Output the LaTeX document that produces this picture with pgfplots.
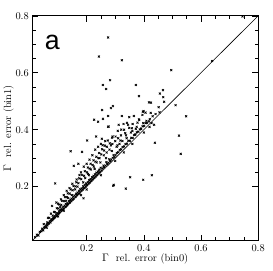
\documentclass[border=0pt]{standalone}
\usepackage{fontspec}
\usepackage{pgfplots}
\pgfplotsset{compat=1.18}
\newfontfamily\sansa{Liberation Sans}
\begin{document}
\begin{tikzpicture}
\begin{axis}[
  scale only axis,
  width=228pt, height=227pt,
  xmin=0.01, xmax=0.8, ymin=0.01, ymax=0.8,
  xtick={0.2,0.4,0.6,0.8}, ytick={0.2,0.4,0.6,0.8},
  minor tick num=3,
  tick align=inside,
  xtick pos=both, ytick pos=both,
  xticklabel pos=bottom, yticklabel pos=left,
  major tick length=6pt, minor tick length=3.5pt,
  axis line style={line width=0.8pt},
  every tick/.style={black, line width=0.6pt},
  tick label style={font=\fontsize{10.5}{12}\selectfont},
  xticklabels={0.2,0.4,0.6,0.8}, yticklabels={0.2,0.4,0.6,0.8},
  label style={font=\fontsize{10.5}{12}\selectfont},
  xlabel={$\Gamma$\ \ rel. error (bin0)},
  ylabel={$\Gamma$\ \ rel. error (bin1)},
  xlabel style={yshift=5pt},
  ylabel style={yshift=-5pt},
  clip=false,
]
\addplot[black, line width=0.6pt] coordinates {(0.01,0.01) (0.8,0.8)};
\addplot[only marks, mark=x, mark size=1.4pt, black, mark options={line width=0.7pt}] table {
x y
0.020 0.022
0.026 0.031
0.031 0.028
0.036 0.041
0.041 0.043
0.044 0.052
0.048 0.046
0.051 0.056
0.054 0.059
0.058 0.063
0.061 0.068
0.063 0.064
0.067 0.073
0.068 0.070
0.071 0.079
0.073 0.074
0.076 0.083
0.078 0.086
0.080 0.082
0.083 0.091
0.085 0.089
0.088 0.097
0.089 0.092
0.093 0.102
0.096 0.098
0.097 0.107
0.101 0.104
0.103 0.113
0.104 0.108
0.108 0.118
0.111 0.114
0.112 0.121
0.116 0.119
0.118 0.129
0.119 0.123
0.123 0.133
0.126 0.129
0.127 0.139
0.131 0.134
0.133 0.142
0.134 0.138
0.138 0.149
0.141 0.144
0.143 0.154
0.146 0.149
0.147 0.158
0.151 0.155
0.153 0.165
0.154 0.158
0.158 0.169
0.161 0.164
0.163 0.175
0.166 0.170
0.168 0.179
0.171 0.175
0.173 0.185
0.175 0.177
0.178 0.191
0.181 0.186
0.183 0.194
0.186 0.190
0.188 0.201
0.191 0.195
0.193 0.206
0.196 0.200
0.198 0.211
0.201 0.205
0.204 0.216
0.206 0.211
0.209 0.223
0.211 0.215
0.214 0.227
0.216 0.220
0.219 0.233
0.221 0.226
0.224 0.238
0.226 0.231
0.229 0.243
0.231 0.236
0.234 0.249
0.236 0.241
0.239 0.253
0.241 0.247
0.244 0.259
0.246 0.251
0.249 0.266
0.252 0.257
0.256 0.264
0.259 0.274
0.261 0.268
0.266 0.274
0.269 0.286
0.272 0.279
0.276 0.284
0.279 0.296
0.282 0.289
0.286 0.295
0.291 0.301
0.294 0.311
0.297 0.304
0.301 0.311
0.306 0.318
0.311 0.321
0.316 0.329
0.321 0.331
0.326 0.339
0.331 0.341
0.336 0.349
0.341 0.351
0.346 0.361
0.351 0.361
0.356 0.371
0.361 0.371
0.366 0.381
0.371 0.384
0.376 0.391
0.381 0.393
0.386 0.401
0.391 0.404
0.396 0.412
0.401 0.413
0.406 0.423
0.411 0.424
0.421 0.437
0.431 0.447
0.441 0.455
0.062 0.074
0.069 0.090
0.081 0.098
0.086 0.111
0.089 0.110
0.096 0.124
0.101 0.123
0.104 0.137
0.111 0.136
0.114 0.150
0.121 0.149
0.124 0.163
0.131 0.163
0.134 0.176
0.141 0.175
0.144 0.190
0.151 0.187
0.154 0.202
0.161 0.201
0.164 0.215
0.171 0.212
0.174 0.229
0.181 0.226
0.184 0.241
0.191 0.238
0.194 0.254
0.201 0.250
0.204 0.267
0.211 0.263
0.214 0.280
0.221 0.276
0.224 0.292
0.231 0.288
0.234 0.305
0.241 0.300
0.244 0.318
0.251 0.313
0.254 0.331
0.261 0.327
0.264 0.344
0.271 0.340
0.281 0.352
0.289 0.372
0.301 0.376
0.309 0.396
0.321 0.400
0.329 0.420
0.341 0.424
0.349 0.444
0.050 0.068
0.065 0.090
0.075 0.105
0.079 0.132
0.094 0.144
0.090 0.211
0.100 0.140
0.110 0.155
0.120 0.170
0.130 0.185
0.135 0.160
0.140 0.195
0.144 0.324
0.150 0.210
0.155 0.273
0.160 0.190
0.165 0.225
0.171 0.280
0.175 0.240
0.180 0.250
0.184 0.322
0.189 0.159
0.190 0.270
0.195 0.230
0.200 0.280
0.202 0.362
0.205 0.245
0.210 0.295
0.215 0.260
0.220 0.310
0.225 0.270
0.226 0.435
0.230 0.330
0.233 0.376
0.235 0.285
0.240 0.340
0.240 0.428
0.243 0.657
0.245 0.300
0.250 0.350
0.253 0.368
0.254 0.469
0.256 0.345
0.257 0.438
0.257 0.557
0.260 0.310
0.265 0.360
0.268 0.543
0.270 0.320
0.274 0.362
0.275 0.448
0.275 0.410
0.275 0.724
0.277 0.411
0.280 0.330
0.282 0.574
0.285 0.476
0.285 0.345
0.290 0.350
0.291 0.376
0.292 0.483
0.293 0.203
0.295 0.206
0.300 0.360
0.305 0.340
0.310 0.370
0.312 0.417
0.315 0.350
0.320 0.380
0.323 0.448
0.323 0.644
0.325 0.360
0.331 0.400
0.335 0.388
0.337 0.193
0.340 0.370
0.345 0.417
0.349 0.406
0.352 0.233
0.355 0.390
0.360 0.395
0.361 0.420
0.365 0.448
0.369 0.382
0.372 0.403
0.372 0.557
0.375 0.410
0.383 0.518
0.383 0.436
0.384 0.434
0.390 0.403
0.395 0.452
0.397 0.463
0.398 0.224
0.398 0.423
0.399 0.465
0.406 0.460
0.409 0.431
0.418 0.429
0.418 0.496
0.424 0.459
0.425 0.495
0.427 0.423
0.428 0.240
0.436 0.417
0.439 0.354
0.452 0.479
0.455 0.461
0.456 0.527
0.467 0.539
0.468 0.514
0.471 0.498
0.496 0.609
0.511 0.486
0.523 0.379
0.529 0.315
0.548 0.447
0.639 0.641
0.745 0.798
0.120 0.115
0.200 0.190
0.250 0.240
0.300 0.290
0.330 0.320
0.360 0.350
0.400 0.390
0.420 0.410
0.180 0.170
0.100 0.095
0.060 0.055
0.108 0.128
0.128 0.150
0.148 0.170
0.168 0.200
0.188 0.215
0.208 0.240
0.228 0.262
0.248 0.285
0.268 0.300
0.288 0.325
0.308 0.345
0.318 0.362
0.338 0.380
0.358 0.405
0.378 0.425
};
\node[font=\sansa\fontsize{27}{30}\selectfont, inner sep=0pt] at (axis cs:0.08,0.705) {a};
\end{axis}
\path (current axis.south west) ++(-30pt,-30pt) coordinate (bl);
\path (current axis.north east) ++(15pt,16pt) coordinate (tr);
\path (bl) rectangle (tr);
\end{tikzpicture}
\end{document}
